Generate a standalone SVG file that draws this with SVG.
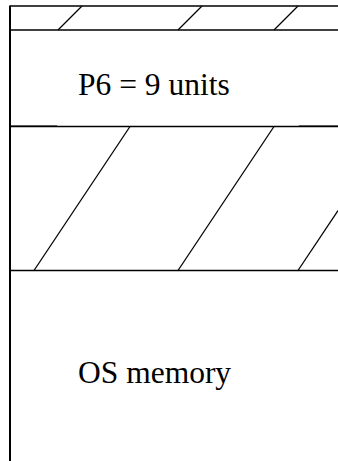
<svg xmlns="http://www.w3.org/2000/svg" width="338" height="461" viewBox="0 0 338 461">
<style>
.ln{stroke:#000;stroke-width:1.3;fill:none}
.lt{stroke:#777;stroke-width:1;fill:none}
.bd{stroke:#000;stroke-width:2;fill:none}
.t{font-family:"Liberation Serif","Times New Roman",serif;font-size:31.5px;fill:#000}
</style>
<rect width="338" height="461" fill="#fff"/>
<g id="hole-top">
<line class="ln" x1="10" y1="6" x2="338" y2="6"/>
<line class="ln" x1="58" y1="30" x2="82" y2="6"/>
<line class="ln" x1="178" y1="30" x2="202" y2="6"/>
<line class="ln" x1="274" y1="30" x2="298" y2="6"/>
</g>
<g id="p6">
<line class="ln" x1="10" y1="30" x2="338" y2="30"/>
<text class="t" x="78" y="95">P6 = 9 units</text>
</g>
<g id="hole-middle">
<line class="lt" x1="10" y1="125.5" x2="57" y2="125.5"/>
<line class="lt" x1="299" y1="125.5" x2="338" y2="125.5"/>
<line class="ln" x1="10" y1="126.5" x2="338" y2="126.5"/>
<line class="ln" x1="130" y1="126.5" x2="34" y2="270.5"/>
<line class="ln" x1="274" y1="126.5" x2="178" y2="270.5"/>
<line class="ln" x1="338" y1="210.5" x2="298" y2="270.5"/>
</g>
<g id="os">
<line class="ln" x1="10" y1="270.5" x2="338" y2="270.5"/>
<text class="t" x="78" y="383">OS memory</text>
</g>
<g id="connectors"></g>
<line class="bd" x1="10" y1="5.5" x2="10" y2="461"/>
</svg>
